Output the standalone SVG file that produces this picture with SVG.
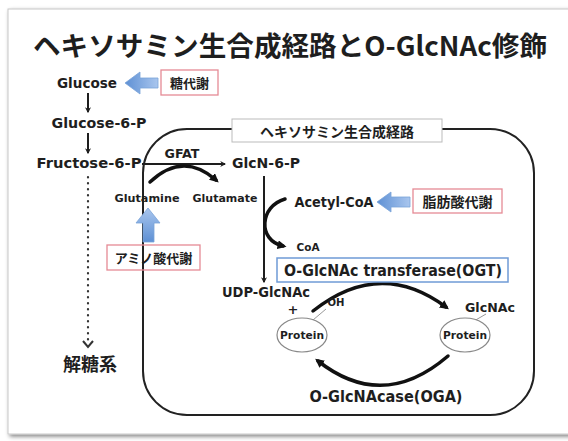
<svg xmlns="http://www.w3.org/2000/svg" width="568" height="441" viewBox="0 0 568 441">
<defs>
<style>
text{font-family:"DejaVu Sans","Noto Sans CJK JP",sans-serif;font-weight:bold;fill:#1e1e1e;dominant-baseline:central}
.jp{font-family:"Noto Sans CJK JP",sans-serif}
.ln{fill:none;stroke:#1e1e1e;stroke-width:2}
.thick{fill:none;stroke:#111;stroke-width:3.5;stroke-linecap:round}
.pink{fill:#fff;stroke:#e58a95;stroke-width:1.3}
.barrow{fill:url(#bg);stroke:#7aa3d8;stroke-width:0.8}
.prot{fill:#fff;stroke:#888;stroke-width:1.2}
.thin{stroke:#999;stroke-width:1;fill:none}
</style>
<linearGradient id="bg" x1="0" y1="0" x2="0" y2="1">
<stop offset="0" stop-color="#a9c6ee"/>
<stop offset="1" stop-color="#5e90d4"/>
</linearGradient>
<linearGradient id="bgh" x1="0" y1="0" x2="1" y2="0">
<stop offset="0" stop-color="#5e90d4"/>
<stop offset="1" stop-color="#a9c6ee"/>
</linearGradient>
<marker id="ah" viewBox="0 0 10 10" refX="8" refY="5" markerWidth="6" markerHeight="6" orient="auto" markerUnits="userSpaceOnUse">
<path d="M0,0 L10,5 L0,10 L3,5 Z" fill="#1e1e1e"/>
</marker>
<marker id="ahb" viewBox="0 0 10 10" refX="6" refY="5" markerWidth="9" markerHeight="9" orient="auto" markerUnits="userSpaceOnUse">
<path d="M0,0 L10,5 L0,10 Z" fill="#111"/>
</marker>
<filter id="sh" x="-5%" y="-5%" width="110%" height="110%">
<feGaussianBlur in="SourceAlpha" stdDeviation="2"/>
<feOffset dx="2" dy="2"/>
<feComponentTransfer><feFuncA type="linear" slope="0.5"/></feComponentTransfer>
<feMerge><feMergeNode/><feMergeNode in="SourceGraphic"/></feMerge>
</filter>
</defs>
<rect width="568" height="441" fill="#fff"/>
<rect x="8" y="9" width="580" height="425" fill="#fff" stroke="#c8c8c8" stroke-width="1" filter="url(#sh)"/>

<text id="title" class="jp" x="33" y="44" font-size="27" textLength="514" lengthAdjust="spacingAndGlyphs">ヘキソサミン生合成経路とO-GlcNAc修飾</text>

<g id="hexosamine-box">
<rect x="143" y="129" width="391" height="286" rx="44" fill="none" stroke="#222" stroke-width="2"/>
<rect x="232" y="119" width="210" height="23" fill="#fff" stroke="#bbb" stroke-width="1"/>
<text class="jp" x="337" y="131" font-size="14" text-anchor="middle" font-weight="normal">ヘキソサミン生合成経路</text>
</g>

<g id="connectors">
<line class="ln" x1="88" y1="93" x2="88" y2="112" marker-end="url(#ah)"/>
<line class="ln" x1="88" y1="133" x2="88" y2="153" marker-end="url(#ah)"/>
<line x1="88" y1="177" x2="88" y2="343" stroke="#333" stroke-width="2.2" stroke-dasharray="0.5 5.5" stroke-linecap="round"/>
<polyline points="83,341 88,347 93,341" fill="none" stroke="#333" stroke-width="2"/>
<line class="ln" x1="142" y1="164" x2="225" y2="164" marker-end="url(#ah)"/>
<path class="thick" d="M150,182 Q183,151 216,180" marker-end="url(#ahb)"/>
<line class="ln" x1="264" y1="176" x2="264" y2="282" marker-end="url(#ah)"/>
<path class="thick" d="M285,199 C260,206 257,240 283,246" marker-end="url(#ahb)"/>
<path class="thick" d="M313,311 Q380,258 446,307" marker-end="url(#ahb)"/>
<path class="thick" d="M448,356 Q383,412 318,361" marker-end="url(#ahb)"/>
<line class="thin" x1="326" y1="309" x2="313" y2="320"/>
<line class="thin" x1="486" y1="314" x2="474" y2="321"/>
<path class="barrow" d="M125,83 L140,72 L140,78 L158,78 L158,88 L140,88 L140,94 Z" style="fill:url(#bgh)"/>
<path class="barrow" d="M377,202 L391,192 L391,197 L410,197 L410,207 L391,207 L391,212 Z" style="fill:url(#bgh)"/>
<path class="barrow" d="M148,208 L160,223 L154,223 L154,242 L143,242 L143,223 L136,223 Z"/>
</g>

<g id="glucose"><text x="87" y="83" font-size="14" text-anchor="middle" textLength="60" lengthAdjust="spacingAndGlyphs">Glucose</text></g>
<g id="glucose-6-p"><text x="99" y="123" font-size="14" text-anchor="middle" textLength="95" lengthAdjust="spacingAndGlyphs">Glucose-6-P</text></g>
<g id="fructose-6-p"><text x="89" y="163" font-size="14" text-anchor="middle" textLength="105" lengthAdjust="spacingAndGlyphs">Fructose-6-P</text></g>
<g id="gfat"><text x="182" y="153" font-size="13" text-anchor="middle" textLength="35" lengthAdjust="spacingAndGlyphs">GFAT</text></g>
<g id="glcn-6-p"><text x="266" y="163" font-size="14" text-anchor="middle" textLength="68" lengthAdjust="spacingAndGlyphs">GlcN-6-P</text></g>
<g id="glutamine"><text x="147" y="198" font-size="11" text-anchor="middle" textLength="65" lengthAdjust="spacingAndGlyphs" fill="#333">Glutamine</text></g>
<g id="glutamate"><text x="225" y="198" font-size="11" text-anchor="middle" textLength="65" lengthAdjust="spacingAndGlyphs" fill="#333">Glutamate</text></g>
<g id="glycolysis"><text class="jp" x="90" y="363" font-size="18" text-anchor="middle">解糖系</text></g>

<g id="sugar-metabolism">
<rect class="pink" x="161" y="70" width="57" height="25"/>
<text class="jp" x="189.5" y="82.5" font-size="13" text-anchor="middle">糖代謝</text>
</g>
<g id="amino-acid-metabolism">
<rect class="pink" x="107" y="245" width="93" height="25" style="fill:none"/>
<text class="jp" x="153.5" y="257.5" font-size="13" text-anchor="middle">アミノ酸代謝</text>
</g>
<g id="fatty-acid-metabolism">
<rect class="pink" x="413" y="189" width="89" height="24"/>
<text class="jp" x="457.5" y="201" font-size="14" text-anchor="middle">脂肪酸代謝</text>
</g>

<g id="acetyl-coa"><text x="334" y="202" font-size="14" text-anchor="middle" textLength="79" lengthAdjust="spacingAndGlyphs">Acetyl-CoA</text></g>
<g id="coa"><text x="308" y="247" font-size="10" text-anchor="middle" textLength="23" lengthAdjust="spacingAndGlyphs" font-weight="normal">CoA</text></g>

<g id="ogt">
<rect x="277" y="258" width="231" height="24" fill="#fff" stroke="#6f9bd6" stroke-width="1.5"/>
<text x="393" y="270" font-size="16" text-anchor="middle" textLength="218" lengthAdjust="spacingAndGlyphs">O-GlcNAc transferase(OGT)</text>
</g>

<g id="udp-glcnac">
<text x="266" y="292" font-size="14" text-anchor="middle" textLength="88" lengthAdjust="spacingAndGlyphs">UDP-GlcNAc</text>
<text x="293" y="309" font-size="13" text-anchor="middle">+</text>
</g>

<g id="protein-oh">
<text x="336" y="302" font-size="10" text-anchor="middle" textLength="17" lengthAdjust="spacingAndGlyphs">OH</text>
<ellipse class="prot" cx="302" cy="335" rx="25" ry="17"/>
<text x="302" y="335" font-size="10.5" text-anchor="middle" textLength="44" lengthAdjust="spacingAndGlyphs" fill="#333">Protein</text>
</g>

<g id="protein-glcnac">
<text x="490" y="307" font-size="13" text-anchor="middle" textLength="50" lengthAdjust="spacingAndGlyphs">GlcNAc</text>
<ellipse class="prot" cx="465" cy="335" rx="25" ry="17"/>
<text x="465" y="335" font-size="10.5" text-anchor="middle" textLength="44" lengthAdjust="spacingAndGlyphs" fill="#333">Protein</text>
</g>

<g id="oga"><text x="386" y="397" font-size="15" text-anchor="middle" textLength="153" lengthAdjust="spacingAndGlyphs">O-GlcNAcase(OGA)</text></g>
</svg>
